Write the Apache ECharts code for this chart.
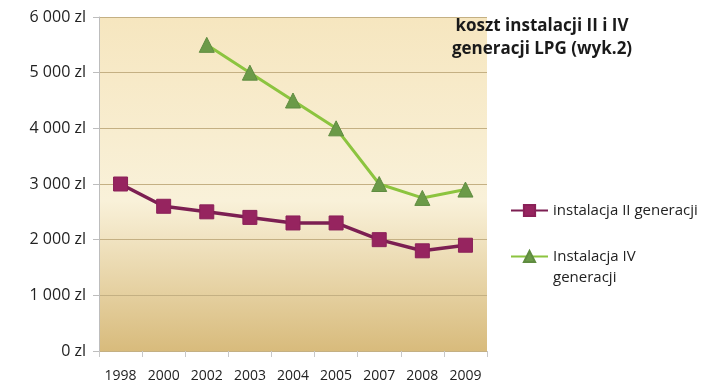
<!DOCTYPE html>
<html><head><meta charset="utf-8">
<script src="https://cdn.jsdelivr.net/npm/echarts@6/dist/echarts.min.js"></script>
<style>html,body{margin:0;padding:0;background:#fff}#c{width:727px;height:392px}</style>
</head><body><div id="c"></div>
<script>
const years = ['1998','2000','2002','2003','2004','2005','2007','2008','2009'];
const gen2 = [3000, 2600, 2500, 2400, 2300, 2300, 2000, 1800, 1900];
const gen4 = [null, null, 5500, 5000, 4500, 4000, 3000, 2750, 2900];
const yTicks = [0, 1000, 2000, 3000, 4000, 5000, 6000];
const seriesNames = ['instalacja II generacji', 'Instalacja IV\ngeneracji'];
const titleLines = 'koszt instalacji II i IV\ngeneracji LPG (wyk.2)';

const FONT = '"Open Sans", sans-serif';
const chart = echarts.init(document.getElementById('c'), null, {renderer: 'canvas'});
chart.setOption({
  animation: false,
  backgroundColor: '#ffffff',
  graphic: [{
    type: 'text', left: 442, top: 15,
    style: {text: titleLines, width: 200, align: 'center', fontFamily: FONT, fontWeight: 'bold',
      fontSize: 17, lineHeight: 23, fill: '#1a1a1a', x: 100, textAlign: 'center'}
  }],
  grid: {left: 99, right: 240, top: 17, bottom: 41, show: true, borderWidth: 0,
    backgroundColor: {type: 'linear', x: 0, y: 0, x2: 0, y2: 1, colorStops: [
      {offset: 0, color: '#f6e6bf'}, {offset: 0.55, color: '#f9f1d9'}, {offset: 1, color: '#d8bb7c'}]}},
  legend: {orient: 'vertical', left: 505, top: 195, itemGap: 4, itemWidth: 37, itemHeight: 14,
    textStyle: {fontFamily: FONT, fontSize: 15, color: '#222', lineHeight: 21},
    formatter: n => n === seriesNames[1] ? ' \n' + n : n,
    data: [seriesNames[0], seriesNames[1]]},
  xAxis: {type: 'category', data: years, boundaryGap: true,
    axisLine: {show: false},
    axisTick: {show: true, length: 6, lineStyle: {color: '#c8c8c8'}, interval: 0},
    axisLabel: {fontFamily: FONT, fontSize: 14, color: '#222', margin: 18, interval: 0}},
  yAxis: {type: 'value', min: 0, max: 6000, interval: 1000,
    axisLine: {show: true, lineStyle: {color: '#bdbdbd'}},
    axisTick: {show: true, length: 6, lineStyle: {color: '#bdbdbd'}},
    splitLine: {lineStyle: {color: '#c4b083', width: 1}},
    axisLabel: {fontFamily: FONT, fontSize: 16, color: '#222', margin: 13,
      formatter: v => yTicks.includes(v) ? (v >= 1000 ? Math.floor(v/1000) + ' ' + String(v%1000).padStart(3,'0') : String(v)) + ' zl' : ''}},
  series: [
    {name: seriesNames[0], type: 'line', data: gen2, symbol: 'rect', symbolSize: 14,
      lineStyle: {color: '#7c1f52', width: 3.5}, itemStyle: {color: '#96245f', borderColor: '#8a2058', borderWidth: 1}},
    {name: seriesNames[1], type: 'line', data: gen4, symbol: 'triangle', symbolSize: 15,
      lineStyle: {color: '#8cc43f', width: 3}, itemStyle: {color: '#6b9a48', borderColor: '#5f8c40', borderWidth: 1}}
  ]
});
</script></body></html>
